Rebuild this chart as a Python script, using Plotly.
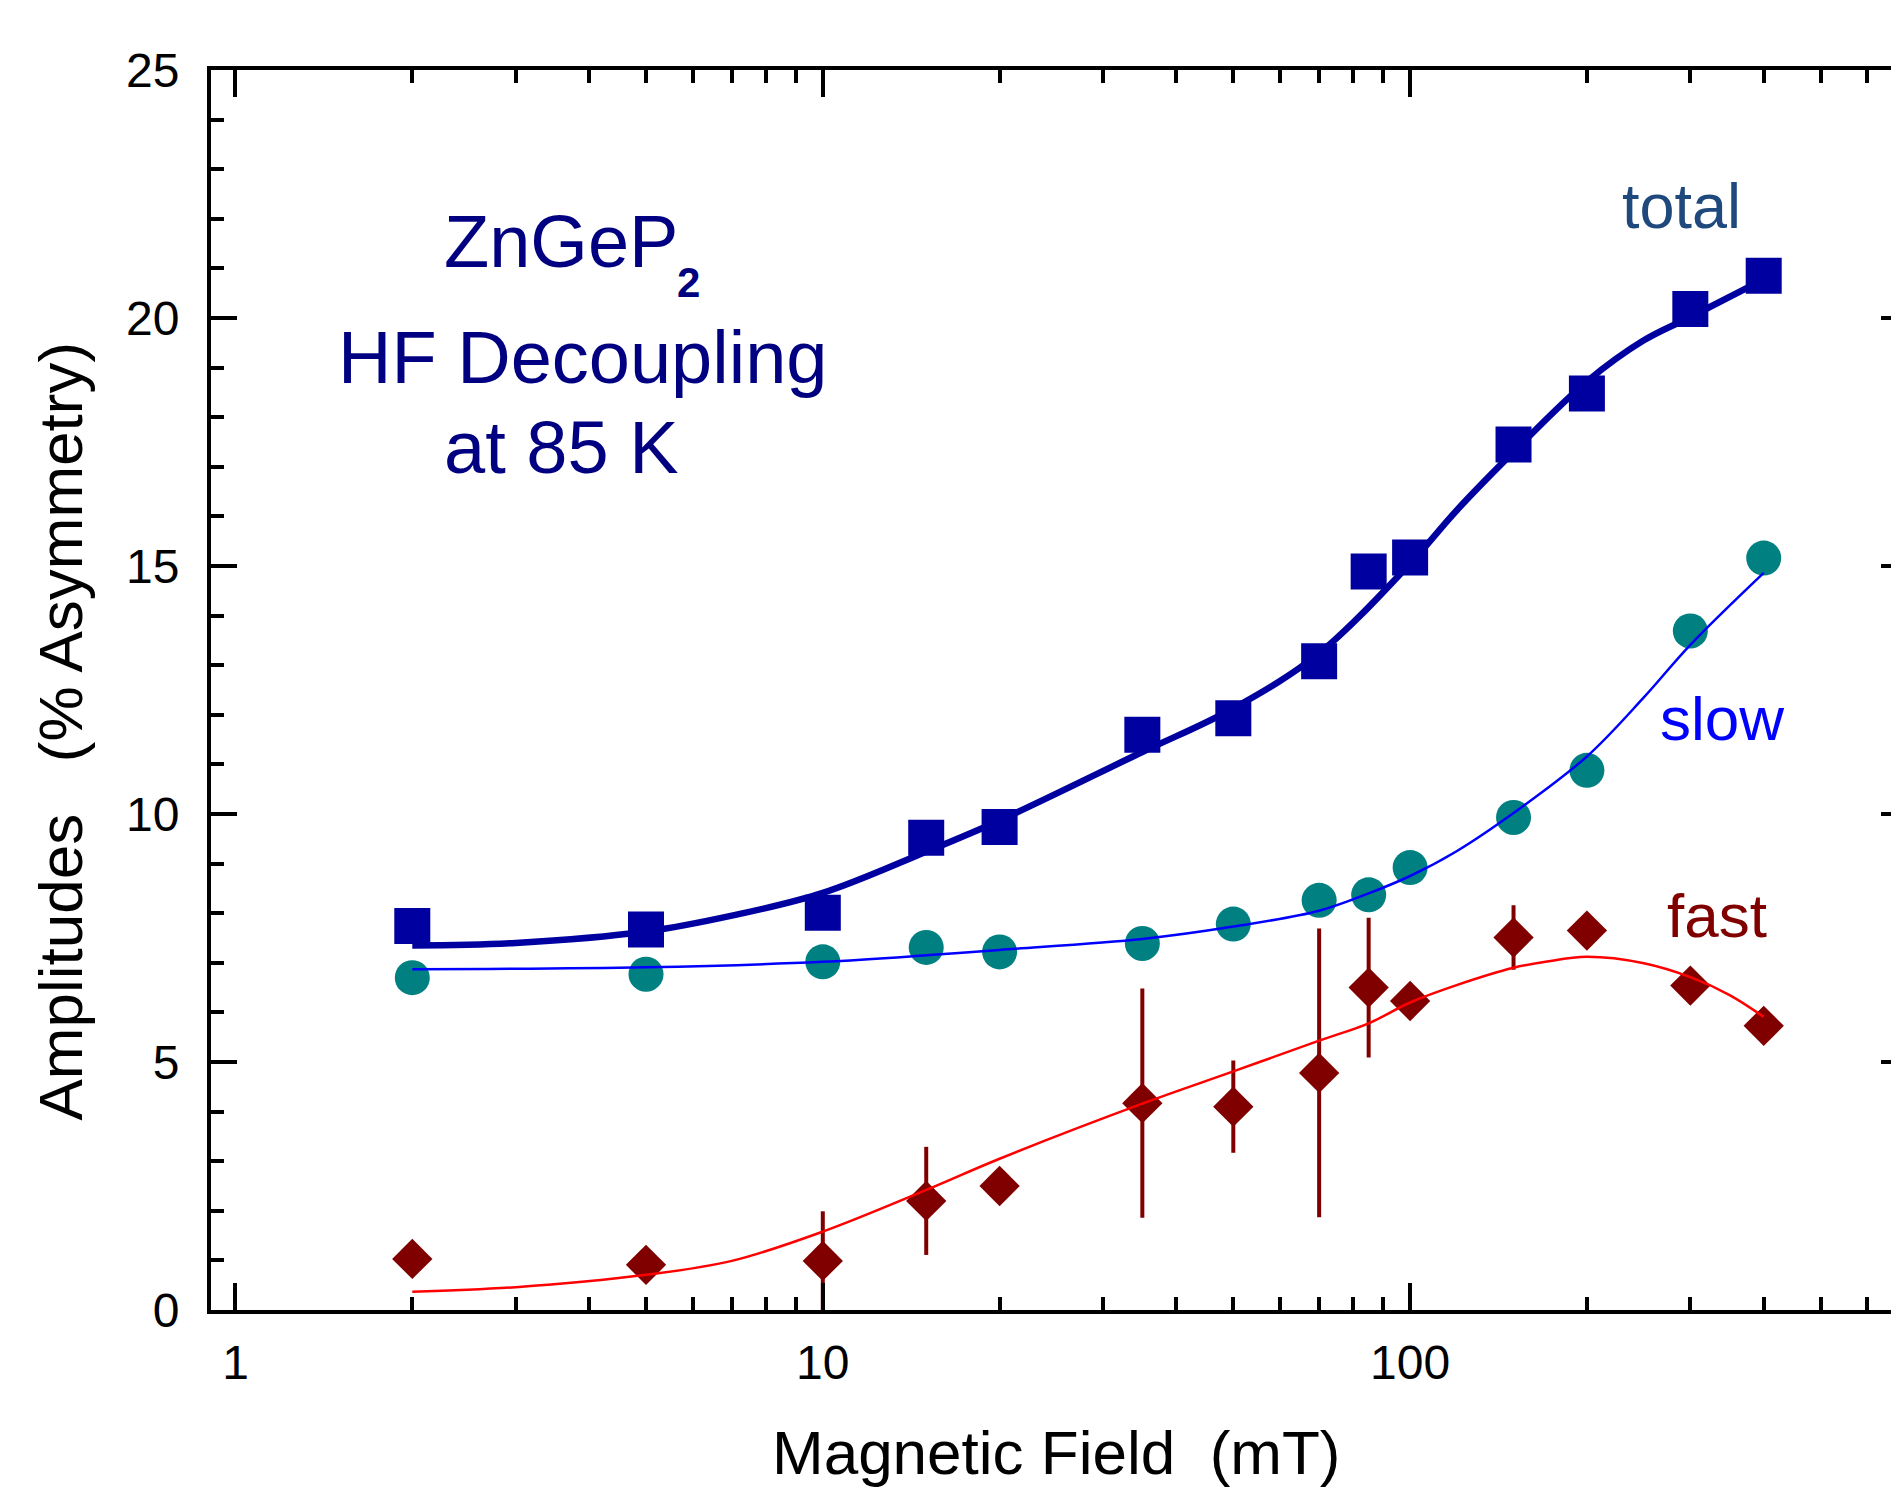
import plotly.graph_objects as go

# ---------------- data ----------------
field_mT = [2, 5, 10, 15, 20, 35, 50, 70, 85, 100, 150, 200, 300, 400]
total_amp = [7.74, 7.67, 8.01, 9.52, 9.74, 11.60, 11.93, 13.08, 14.89, 15.17, 17.45, 18.48, 20.18, 20.85]
slow_amp = [6.70, 6.77, 7.02, 7.31, 7.22, 7.39, 7.78, 8.26, 8.37, 8.92, 9.93, 10.88, 13.69, 15.16]
fast_amp = [1.03, 0.91, 0.99, 2.20, 2.50, 4.17, 4.10, 4.78, 6.50, 6.23, 7.51, 7.65, 6.54, 5.73]
fast_err = [0, 0, 1.00, 1.09, 0, 2.31, 0.93, 2.91, 1.41, 0, 0.65, 0, 0, 0]

total_fit_x = [2, 3, 5, 7, 10, 15, 20, 35, 50, 70, 100, 120, 150, 200, 250, 300, 400]
total_fit_y = [7.35, 7.40, 7.63, 7.95, 8.41, 9.24, 9.87, 11.25, 12.13, 13.24, 15.05, 16.12, 17.30,
               18.72, 19.55, 20.02, 20.78]
slow_fit_x = [2, 5, 10, 15, 20, 35, 50, 70, 85, 100, 120, 150, 200, 250, 300, 400]
slow_fit_y = [6.87, 6.91, 7.02, 7.15, 7.26, 7.48, 7.73, 8.05, 8.40, 8.75, 9.25, 10.02, 11.16,
              12.35, 13.41, 14.86]
fast_fit_x = [2, 3, 5, 7, 10, 15, 20, 35, 50, 70, 85, 100, 120, 150, 170, 200, 250, 300, 350, 400]
fast_fit_y = [0.37, 0.46, 0.71, 0.99, 1.58, 2.42, 3.05, 4.16, 4.81, 5.43, 5.78, 6.20, 6.55, 6.90,
              7.02, 7.12, 6.99, 6.71, 6.35, 5.91]

y_ticks = [0, 5, 10, 15, 20, 25]

# ---------------- layout geometry ----------------
W, H = 1891, 1488
ML, MR, MT, MB = 211, 0, 70, 178
PW, PH = W - ML - MR, H - MT - MB
FONT = "Arial, 'Liberation Sans', sans-serif"


def px_x(px):
    return (px - ML) / PW


def px_y(py):
    return (H - MB - py) / PH


C_TOTAL = "#0000A0"
C_SLOW_M = "#008080"
C_SLOW_L = "#0000FF"
C_FAST_M = "#800000"
C_FAST_L = "#FF0000"

fig = go.Figure()

fig.add_trace(go.Scatter(
    x=field_mT, y=total_amp, mode="markers",
    marker=dict(symbol="square", size=36, color=C_TOTAL, line=dict(width=0)),
    showlegend=False))
fig.add_trace(go.Scatter(
    x=field_mT, y=slow_amp, mode="markers",
    marker=dict(symbol="circle", size=35, color=C_SLOW_M, line=dict(width=0)),
    showlegend=False))
fig.add_trace(go.Scatter(
    x=field_mT, y=fast_amp, mode="markers",
    marker=dict(symbol="diamond", size=31, color=C_FAST_M, line=dict(width=0)),
    error_y=dict(type="data", array=fast_err, visible=True, thickness=4, width=0, color=C_FAST_M),
    showlegend=False))

fig.add_trace(go.Scatter(
    x=total_fit_x, y=total_fit_y, mode="lines",
    line=dict(color=C_TOTAL, width=6.5, shape="spline", smoothing=1.0),
    showlegend=False))
fig.add_trace(go.Scatter(
    x=slow_fit_x, y=slow_fit_y, mode="lines",
    line=dict(color=C_SLOW_L, width=2.5, shape="spline", smoothing=1.0),
    showlegend=False))
fig.add_trace(go.Scatter(
    x=fast_fit_x, y=fast_fit_y, mode="lines",
    line=dict(color=C_FAST_L, width=2.5, shape="spline", smoothing=1.0),
    showlegend=False))

# invisible trace so the right-hand tick axis is drawn
fig.add_trace(go.Scatter(x=[], y=[], yaxis="y2", showlegend=False))

fig.update_layout(
    width=W, height=H,
    margin=dict(l=ML, r=MR, t=MT, b=MB, pad=0),
    paper_bgcolor="white", plot_bgcolor="white",
    font=dict(family=FONT, color="black"),
    xaxis=dict(
        type="log", range=[-0.0417, 2.8188],
        dtick=1, tick0=0,
        ticks="inside", ticklen=27, tickwidth=4, tickcolor="black",
        minor=dict(ticks="inside", ticklen=13, tickwidth=4, tickcolor="black", dtick="D1", showgrid=False),
        showline=True, linewidth=4, linecolor="black", mirror="ticks",
        showgrid=False, zeroline=False,
        tickfont=dict(size=48, family=FONT, color="black"),
        ticklabelstandoff=7,
    ),
    yaxis=dict(
        range=[0, 25], tickvals=y_ticks,
        ticks="inside", ticklen=26, tickwidth=4, tickcolor="black",
        minor=dict(ticks="inside", ticklen=13, tickwidth=4, tickcolor="black", dtick=1, showgrid=False),
        showline=True, linewidth=4, linecolor="black", mirror=False,
        showgrid=False, zeroline=False,
        tickfont=dict(size=48, family=FONT, color="black"),
        ticklabelstandoff=18,
    ),
    yaxis2=dict(
        range=[0, 25], tickvals=y_ticks, overlaying="y", side="right", anchor="x",
        ticks="inside", ticklen=10, tickwidth=4, tickcolor="black",
        showline=False, showgrid=False, zeroline=False, showticklabels=False,
    ),
)

ann = []


def add_text(text, px, py, size, color, bold=False, angle=0):
    ann.append(dict(
        text=("<b>%s</b>" % text) if bold else text,
        x=px_x(px), y=px_y(py), xref="paper", yref="paper",
        xanchor="center", yanchor="middle", showarrow=False, textangle=angle,
        font=dict(family=FONT, size=size, color=color)))


# sample description
add_text("ZnGeP", 560.5, 267 - 0.3465 * 74, 74, "#000080")
add_text("2", 688.5, 297 - 0.3465 * 42, 42, "#000080", bold=True)
add_text("HF Decoupling", 582, 383 - 0.3465 * 74, 74, "#000080")
add_text("at 85 K", 561, 473 - 0.3465 * 74, 74, "#000080")

# series labels
add_text("total", 1681, 228 - 0.3465 * 63, 63, "#1F497D")
add_text("slow", 1722, 740 - 0.3465 * 62, 62, C_SLOW_L)
add_text("fast", 1717, 937 - 0.3465 * 62, 62, C_FAST_M)

# axis titles
add_text("Magnetic Field\u00a0\u00a0(mT)", 1056, 1474 - 0.3465 * 62, 62, "black")
add_text("Amplitudes\u00a0\u00a0\u00a0(% Asymmetry)", 81 - 0.3465 * 62, 731, 62, "black", angle=-90)

fig.update_layout(annotations=ann)

fig.write_html(
    "out.html",
    config={"displayModeBar": False},
    post_script="document.body.style.margin='0';document.body.style.overflow='hidden';",
)
